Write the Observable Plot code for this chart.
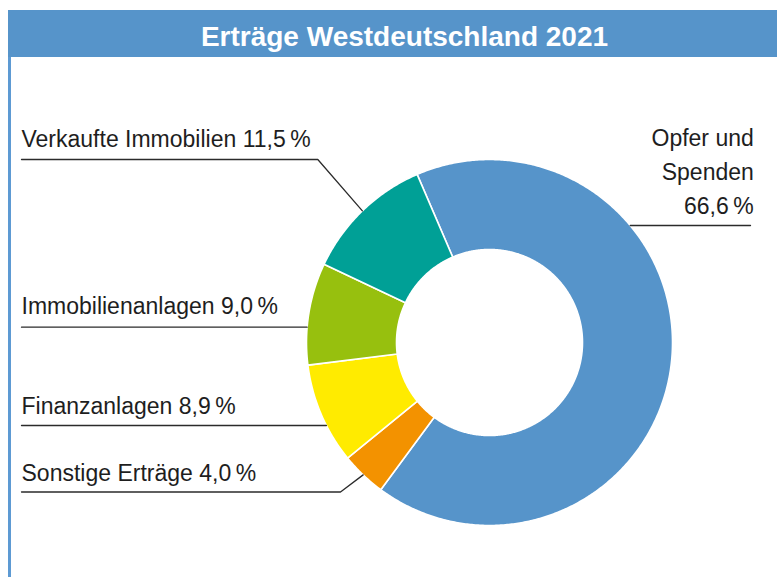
<!DOCTYPE html>
<html>
<head>
<meta charset="utf-8">
<script src="https://cdn.jsdelivr.net/npm/d3@7"></script>
<script src="https://cdn.jsdelivr.net/npm/@observablehq/plot@0.6"></script>
<style>
  body { margin: 0; background: #fff; }
  #wrap { position: relative; width: 777px; height: 577px; overflow: hidden; background: #fff; }
  #title { position: absolute; left: 8px; top: 10px; width: 769px; height: 47px; background: #5694ca; overflow: hidden; }
  #title span { position: absolute; left: 396.5px; top: 0; transform: translateX(-50%); white-space: nowrap;
    color: #fff; font: bold 28px "Liberation Sans", Arial, sans-serif; line-height: 54px; }
  #border { position: absolute; left: 8px; top: 57px; width: 3px; height: 520px; background: #5d9ad3; }
  #chart { position: absolute; left: 0; top: 57px; }
</style>
</head>
<body>
<div id="wrap">
  <div id="title"><span>Erträge Westdeutschland 2021</span></div>
  <div id="border"></div>
  <div id="chart"></div>
</div>
<script>
// ---- data ----
const categories = ["Opfer und Spenden", "Sonstige Erträge", "Finanzanlagen", "Immobilienanlagen", "Verkaufte Immobilien"];
const shares = [66.6, 4.0, 8.9, 9.0, 11.5];
const colors = ["#5694ca", "#f39200", "#ffeb00", "#97c00e", "#00a096"];

// ---- layout (page pixels) ----
const W = 777, H = 520, svgTop = 57;
const cx = 489, cy = 342;          // donut centre on the page
const R = 183, r = 93;             // outer / inner radius
const startDeg = -23.3;            // clockwise from 12 o'clock
const px = v => v - cx;
const py = v => cy - v;
const labelLayout = {
  "Opfer und Spenden":    {textX: 753.3, textY: 213,   lineY: 225,   lineEnd: 750, side: "right"},
  "Sonstige Erträge":     {textX: 21,    textY: 480.5, lineY: 491.5, elbowX: 340,  side: "left", attach: "mid"},
  "Finanzanlagen":        {textX: 21,    textY: 413.8, lineY: 425,   side: "left", attach: "y"},
  "Immobilienanlagen":    {textX: 21,    textY: 313.8, lineY: 326.7, side: "left", attach: "y"},
  "Verkaufte Immobilien": {textX: 21,    textY: 146.7, lineY: 159,   elbowX: 317.3, side: "left", attach: "mid"}
};

const fmt = v => v.toFixed(1).replace(".", ",") + "\u2009%";
const rad = d => d * Math.PI / 180;
const polar = (deg, rho) => ({x: rho * Math.sin(rad(deg)), y: rho * Math.cos(rad(deg))});

// ---- slices ----
let acc = startDeg;
const slices = categories.map((name, i) => {
  const a0 = acc, a1 = acc + shares[i] * 3.6;
  acc = a1;
  return {name, value: shares[i], a0, a1, mid: (a0 + a1) / 2};
});
const ringPts = [];
for (const s of slices) {
  const n = Math.max(2, Math.ceil((s.a1 - s.a0) / 0.5));
  for (let k = 0; k <= n; k++) ringPts.push({name: s.name, ...polar(s.a0 + (s.a1 - s.a0) * k / n, R)});
  for (let k = n; k >= 0; k--) ringPts.push({name: s.name, ...polar(s.a0 + (s.a1 - s.a0) * k / n, r)});
}

// ---- labels & leader lines ----
const leftLabels = [], rightLabels = [], leaders = [];
for (const s of slices) {
  const L = labelLayout[s.name];
  const ly = py(L.lineY);
  if (L.side === "right") {
    rightLabels.push({x: px(L.textX), y: py(L.textY), text: "Opfer und\nSpenden\n" + fmt(s.value)});
    const ax = Math.sqrt(R * R - ly * ly);
    leaders.push({name: s.name, x: ax, y: ly}, {name: s.name, x: px(L.lineEnd), y: ly});
  } else {
    leftLabels.push({x: px(L.textX), y: py(L.textY), text: s.name + " " + fmt(s.value)});
    leaders.push({name: s.name, x: px(L.textX), y: ly});
    if (L.attach === "mid") {
      leaders.push({name: s.name, x: px(L.elbowX), y: ly});
      leaders.push({name: s.name, ...polar(s.mid, R)});
    } else {
      leaders.push({name: s.name, x: -Math.sqrt(R * R - ly * ly), y: ly});
    }
  }
}

const font = '"Liberation Sans", Arial, Helvetica, sans-serif';
const chart = Plot.plot({
  width: W, height: H, margin: 0,
  x: {domain: [px(0), px(W)], axis: null},
  y: {domain: [py(svgTop + H), py(svgTop)], axis: null},
  color: {domain: categories, range: colors},
  style: {background: "transparent"},
  marks: [
    Plot.line(ringPts, {x: "x", y: "y", z: "name", fill: "name", stroke: "#fff", strokeWidth: 1.6, curve: "linear-closed"}),
    Plot.line(leaders, {x: "x", y: "y", z: "name", stroke: "#2b2b2b", strokeWidth: 1.3}),
    Plot.text(leftLabels, {x: "x", y: "y", text: "text", textAnchor: "start", lineAnchor: "bottom", fontSize: 23, fontFamily: font, fill: "#1e1e1e"}),
    Plot.text(rightLabels, {x: "x", y: "y", text: "text", textAnchor: "end", lineAnchor: "bottom", lineHeight: 1.457, fontSize: 23, fontFamily: font, fill: "#1e1e1e"})
  ]
});
document.getElementById("chart").appendChild(chart);
</script>
</body>
</html>
